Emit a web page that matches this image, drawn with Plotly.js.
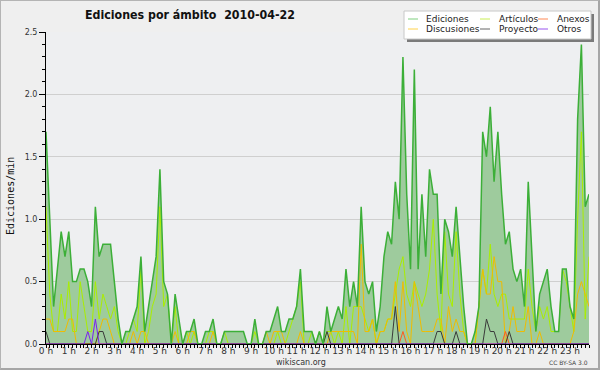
<!DOCTYPE html>
<html><head><meta charset="utf-8">
<script src="https://cdn.plot.ly/plotly-3.0.1.min.js"></script>
<style>
html,body{margin:0;padding:0;background:#efefef}
#wrap{position:relative;width:600px;height:370px}
#chart{width:600px;height:370px}
#frame{position:absolute;left:0;top:0;width:600px;height:370px;box-sizing:border-box;border:1px solid #b4b4b4;border-right:2px solid #a6a6a6;border-bottom:2px solid #a6a6a6;pointer-events:none}
</style>
</head><body><div id="wrap"><div id="chart"></div><div id="frame"></div></div>
<script>
// 10-minute bins over the day (hours)
const bins = Array.from({length: 144}, (_, i) => i / 6);
const hourTicks = Array.from({length: 24}, (_, h) => h);
const hourLabels = hourTicks.map(h => h + ' h');
const yTicks = [0, 0.5, 1.0, 1.5, 2.0, 2.5];
const yLabels = ['0.0', '0.5', '1.0', '1.5', '2.0', '2.5'];

const ediciones = [
1.7,1.0,0.3,0.6,0.9,0.7,0.9,0.5,0.5,0.6,0.6,0.5,0.3,1.1,0.7,0.8,0.8,0.8,0.5,0.2,0.0,0.1,0.1,0.2,
0.3,0.7,0.1,0.3,0.5,0.7,1.4,0.5,0.4,0.0,0.4,0.2,0.0,0.1,0.1,0.2,0.0,0.0,0.1,0.1,0.2,0.0,0.0,0.1,
0.1,0.1,0.1,0.1,0.1,0.0,0.0,0.2,0.0,0.0,0.1,0.1,0.2,0.3,0.1,0.1,0.2,0.2,0.3,0.6,0.1,0.1,0.1,0.0,
0.1,0.0,0.3,0.1,0.2,0.3,0.2,0.6,0.3,0.5,0.3,1.1,0.5,0.4,0.5,0.1,0.3,0.7,0.9,0.8,1.3,1.0,2.3,1.2,
0.6,2.2,0.6,1.2,0.7,1.4,1.2,1.2,0.4,1.0,0.9,0.7,1.1,0.7,0.3,0.0,0.0,0.1,0.3,1.7,1.5,1.9,1.3,1.7,
1.2,0.8,0.9,0.6,0.5,0.6,0.3,1.3,0.7,0.1,0.4,0.5,0.6,0.3,0.1,0.1,0.6,0.6,0.3,0.2,1.8,2.4,1.1,1.2];

const articulos = [
1.1,0.4,0.1,0.1,0.4,0.2,0.5,0.1,0.1,0.5,0.3,0.1,0.1,0.5,0.2,0.4,0.3,0.2,0.3,0.1,0.0,0.0,0.1,0.2,
0.1,0.6,0.0,0.1,0.3,0.4,1.1,0.3,0.4,0.0,0.3,0.0,0.0,0.1,0.0,0.1,0.0,0.0,0.0,0.1,0.1,0.0,0.0,0.1,
0.0,0.0,0.0,0.0,0.0,0.0,0.0,0.1,0.0,0.0,0.0,0.0,0.0,0.1,0.0,0.0,0.1,0.2,0.3,0.5,0.0,0.0,0.1,0.0,
0.1,0.0,0.1,0.1,0.0,0.1,0.0,0.3,0.0,0.3,0.3,0.3,0.2,0.1,0.2,0.0,0.1,0.1,0.2,0.2,0.4,0.6,0.7,0.4,
0.3,0.5,0.4,0.3,0.4,0.6,1.0,0.4,0.1,0.9,0.4,0.3,0.9,0.4,0.1,0.0,0.0,0.0,0.3,0.6,0.4,0.8,0.4,0.3,
0.4,0.4,0.2,0.2,0.2,0.2,0.2,0.6,0.3,0.1,0.3,0.2,0.3,0.1,0.1,0.1,0.6,0.5,0.3,0.1,1.0,1.7,0.2,0.7];

const discusiones = [
0.2,0.2,0.1,0.1,0.1,0.1,0.2,0.2,0.0,0.0,0.0,0.0,0.0,0.0,0.1,0.2,0.2,0.1,0.0,0.0,0.0,0.0,0.0,0.1,
0.0,0.1,0.1,0.0,0.0,0.0,0.0,0.0,0.0,0.0,0.1,0.0,0.0,0.0,0.1,0.1,0.0,0.0,0.0,0.0,0.1,0.0,0.0,0.0,
0.0,0.0,0.0,0.0,0.0,0.0,0.0,0.0,0.0,0.0,0.1,0.0,0.1,0.1,0.1,0.0,0.0,0.0,0.0,0.1,0.0,0.0,0.0,0.0,
0.0,0.0,0.0,0.1,0.1,0.1,0.1,0.1,0.1,0.1,0.0,0.8,0.1,0.1,0.2,0.0,0.1,0.1,0.2,0.2,0.5,0.1,0.5,0.1,
0.0,0.5,0.3,0.1,0.1,0.1,0.1,0.2,0.2,0.0,0.3,0.1,0.2,0.1,0.1,0.0,0.0,0.0,0.3,0.6,0.4,0.4,0.7,0.5,
0.5,0.0,0.1,0.3,0.1,0.1,0.1,0.3,0.0,0.0,0.1,0.0,0.0,0.0,0.0,0.0,0.0,0.0,0.0,0.1,0.4,0.5,0.4,0.3];

const anexos = [
0,0,0,0,0,0,0,0,0,0,0,0,0,0,0,0,0,0,0,0,0,0,0,0,
0,0,0,0,0,0,0,0,0,0,0,0,0,0,0,0,0,0,0,0,0,0,0,0,
0,0,0,0,0,0,0,0,0,0,0,0,0,0,0,0,0,0,0,0,0,0,0,0,
0,0,0,0,0,0,0,0,0,0,0,0,0,0,0,0,0,0,0,0,0,0,0.1,0,
0,0,0,0,0,0,0,0,0,0,0,0,0,0,0,0,0,0,0,0,0,0,0,0,
0,0.1,0,0,0,0,0,0,0,0,0,0,0,0,0,0,0,0,0,0,0,0,0,0];

const proyecto = [
0.1,0,0,0,0,0,0,0,0,0,0,0,0,0,0.1,0.1,0,0,0,0,0,0,0,0,
0,0,0,0,0,0,0,0,0,0,0,0,0,0,0,0,0,0,0,0,0,0,0,0,
0,0,0,0,0,0,0,0,0,0,0,0,0,0,0,0,0,0,0,0,0,0,0,0,
0,0,0.1,0,0,0,0,0,0,0,0,0,0,0,0,0,0,0,0,0,0.3,0,0,0,
0,0,0,0,0,0,0,0.1,0.1,0,0,0,0.1,0,0,0,0,0,0,0,0.2,0.1,0.1,0,
0,0,0.1,0,0,0,0,0,0,0,0,0,0,0,0,0,0,0,0,0,0,0,0,0];

const otros = [
0,0,0,0,0,0,0,0,0,0,0,0.1,0,0.2,0,0,0,0,0,0,0,0,0,0,
0,0,0,0,0,0,0,0,0,0,0,0,0,0,0,0,0,0,0,0,0,0,0,0,
0,0,0,0,0,0,0,0,0,0,0,0,0,0,0,0,0,0,0,0,0,0,0,0,
0,0,0,0,0,0,0,0,0,0,0,0,0,0,0,0,0,0,0,0,0,0,0,0,
0,0,0,0,0,0,0,0,0,0,0,0,0,0,0,0,0,0,0,0,0,0,0,0,
0,0,0,0,0,0,0,0,0,0,0,0,0,0,0,0,0,0,0,0,0,0,0,0];

const names = ['Ediciones','Artículos','Anexos','Discusiones','Proyecto','Otros'];
const colors = {
  'Ediciones':'#3caf38', 'Artículos':'#aaee00', 'Anexos':'#ff5a1e',
  'Discusiones':'#f0bc00', 'Proyecto':'#3a3a3a', 'Otros':'#7a22ee'
};
const legendColors = {
  'Ediciones':'#7fcf7f', 'Artículos':'#c9ee55', 'Anexos':'#ff8855',
  'Discusiones':'#ffd24a', 'Proyecto':'#666666', 'Otros':'#9955ee'
};

// plot area in pixels
const L = 46, R = 589, T = 32, B = 344;
const px = x => (x - L) / (R - L);
const py = y => (B - y) / (B - T);

const line = (y, name, w) => ({x: bins, y: y, type:'scatter', mode:'lines', name: name,
  line:{color: colors[name], width: w}, hoverinfo:'skip', showlegend:false});

const traces = [
  {x: bins, y: ediciones, type:'scatter', mode:'none', fill:'tozeroy', fillcolor:'#9ecb9d', hoverinfo:'skip', showlegend:false},
  line(articulos, 'Artículos', 1),
  line(discusiones, 'Discusiones', 1),
  line(anexos, 'Anexos', 1),
  line(proyecto, 'Proyecto', 1),
  line(otros, 'Otros', 1),
  line(ediciones, 'Ediciones', 1.5)
];

const shapes = [
  {type:'rect', xref:'paper', yref:'paper', x0:px(407), x1:px(594), y0:py(14), y1:py(42), fillcolor:'#7a7a7a', line:{width:0}, layer:'above'},
  {type:'rect', xref:'paper', yref:'paper', x0:px(404), x1:px(591), y0:py(11), y1:py(39), fillcolor:'#ffffff', line:{color:'#c8c8c8', width:1}, layer:'above'}
];
const annotations = [];
const cols = [[408, 424], [480, 497], [538, 555]];
const rows = [19, 29];
names.forEach((n, k) => {
  const c = cols[k % 3], r = rows[Math.floor(k / 3)];
  shapes.push({type:'line', xref:'paper', yref:'paper', x0:px(c[0]), x1:px(c[0] + 10), y0:py(r), y1:py(r), line:{color: legendColors[n], width:1}, layer:'above'});
  annotations.push({xref:'paper', yref:'paper', x:px(c[1]), y:py(r), xanchor:'left', yanchor:'middle', text:n, showarrow:false,
    font:{family:'DejaVu Sans', size:9, color:'#222'}});
});
annotations.push({xref:'paper', yref:'paper', x:px(10), y:py(196), text:'Ediciones/min', textangle:-90, showarrow:false,
  xanchor:'center', yanchor:'middle', font:{family:'DejaVu Sans Mono', size:10, color:'#111'}});
annotations.push({xref:'paper', yref:'paper', x:px(301), y:py(362), text:'wikiscan.org', showarrow:false,
  xanchor:'center', yanchor:'middle', font:{family:'DejaVu Sans', size:8, color:'#333'}});
annotations.push({xref:'paper', yref:'paper', x:px(590), y:py(362), text:'CC BY-SA 3.0', showarrow:false,
  xanchor:'right', yanchor:'middle', font:{family:'DejaVu Sans', size:6, color:'#444'}});

const layout = {
  width:600, height:370,
  margin:{l:L, r:600 - R, t:T, b:370 - B, pad:0},
  paper_bgcolor:'#efefef', plot_bgcolor:'#eeeff1',
  title:{text:'<b>Ediciones por ámbito\u00a0\u00a02010-04-22</b>', x:85/600, xanchor:'left', xref:'container',
    y:1 - 14.5/370, yanchor:'middle', yref:'container', font:{family:'DejaVu Sans Condensed, Liberation Sans Narrow, Liberation Sans', size:12.3, color:'#111'}},
  xaxis:{range:[0, 143/6], tickmode:'array', tickvals:hourTicks, ticktext:hourLabels,
    ticks:'outside', ticklen:3, tickcolor:'#000', tickwidth:1, showline:true, linecolor:'#000', linewidth:1,
    showgrid:false, zeroline:false, tickfont:{family:'DejaVu Sans', size:9, color:'#333'}, ticklabelstandoff:-5,
    minor:{dtick:1/6, tick0:0, ticks:'outside', ticklen:3, tickcolor:'#000', showgrid:false}},
  yaxis:{range:[0, 2.5], tickmode:'array', tickvals:yTicks, ticktext:yLabels,
    ticks:'outside', ticklen:6, tickcolor:'#000', tickwidth:1, showline:true, linecolor:'#000', linewidth:1,
    showgrid:true, gridcolor:'#cfcfcf', gridwidth:1, zeroline:false,
    tickfont:{family:'DejaVu Sans', size:8, color:'#333'},
    minor:{dtick:0.1, tick0:0, ticks:'outside', ticklen:3, tickcolor:'#000', showgrid:false}},
  shapes: shapes, annotations: annotations, showlegend:false
};
Plotly.newPlot('chart', traces, layout, {displayModeBar:false, staticPlot:true});
</script>
</body></html>
